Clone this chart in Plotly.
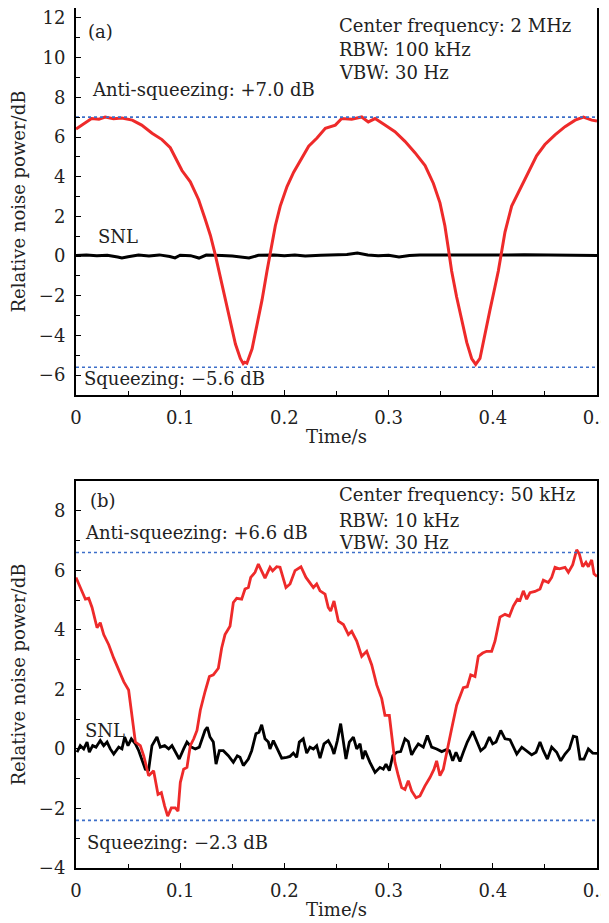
import plotly.graph_objects as go

# ---- panel (a): 2 MHz ----
time_sq_a = [0, 0.006, 0.015, 0.022, 0.028, 0.036, 0.044, 0.054, 0.063, 0.073, 0.0825, 0.0905,
             0.0953, 0.1017, 0.1097, 0.1177, 0.124, 0.129, 0.1337, 0.1385, 0.1433, 0.148, 0.153,
             0.1577, 0.1605, 0.162, 0.164, 0.169, 0.1737, 0.1785, 0.1833, 0.1865, 0.1913, 0.196,
             0.2025, 0.2089, 0.2169, 0.2233, 0.2313, 0.2393, 0.2489, 0.255, 0.2646, 0.2742, 0.2805,
             0.287, 0.2965, 0.3061, 0.3157, 0.3253, 0.335, 0.343, 0.3493, 0.354, 0.3573, 0.3605,
             0.3653, 0.370, 0.375, 0.3797, 0.3836, 0.3877, 0.3925, 0.3973, 0.402, 0.4053, 0.4085,
             0.4117, 0.4181, 0.426, 0.434, 0.442, 0.450, 0.4597, 0.4693, 0.479, 0.487, 0.495, 0.5]
noise_sq_a = [6.4, 6.63, 6.93, 6.9, 7.0, 6.92, 6.96, 6.85, 6.6, 6.19, 5.87, 5.46,
              4.97, 4.31, 3.74, 2.84, 1.86, 1.04, 0.06, -1.08, -2.2, -3.37, -4.43,
              -5.16, -5.42, -5.35, -5.4, -4.67, -3.53, -2.22, -0.75, 0.23, 1.53, 2.52,
              3.5, 4.23, 4.97, 5.54, 5.95, 6.44, 6.6, 6.93, 6.9, 7.01, 6.76,
              6.93, 6.6, 6.27, 5.78, 5.21, 4.56, 3.66, 2.68, 1.53, 0.39, -0.75,
              -2.06, -3.2, -4.35, -5.16, -5.46, -5.16, -4.02, -2.71, -1.57, -0.75, 0.23,
              1.21, 2.52, 3.33, 4.15, 5.05, 5.62, 6.11, 6.52, 6.85, 7.0, 6.85, 6.8]

time_snl_a = [0, 0.01, 0.02, 0.03, 0.04, 0.044, 0.05, 0.06, 0.07, 0.08, 0.09, 0.095, 0.1, 0.11,
              0.118, 0.125, 0.14, 0.15, 0.166, 0.175, 0.19, 0.2, 0.21, 0.22, 0.235, 0.25, 0.26,
              0.27, 0.28, 0.29, 0.3, 0.31, 0.32, 0.33, 0.35, 0.37, 0.39, 0.41, 0.43, 0.45, 0.47, 0.49, 0.5]
noise_snl_a = [0.03, 0.05, 0.02, 0.04, -0.05, -0.1, -0.03, 0.05, 0.0, 0.06, -0.02, -0.09, 0.04, 0.02,
               -0.1, 0.05, 0.03, 0.0, -0.1, 0.04, 0.06, 0.02, 0.05, 0.0, 0.04, 0.06, 0.08,
               0.15, 0.06, 0.02, 0.04, -0.05, 0.03, 0.06, 0.05, 0.04, 0.06, 0.05, 0.07, 0.05, 0.06, 0.04, 0.03]

limits_a = [7.0, -5.6]

# ---- panel (b): 50 kHz ----
time_sq_b = [0.0, 0.0058, 0.009, 0.0122, 0.0154, 0.0202, 0.0233, 0.0266, 0.0314, 0.0362, 0.041,
             0.0458, 0.0505, 0.0537, 0.057, 0.0617, 0.065, 0.0697, 0.0745, 0.0787, 0.0819, 0.0851,
             0.088, 0.0915, 0.0953, 0.0979, 0.1001, 0.1033, 0.1065, 0.1097, 0.113, 0.1161, 0.1193,
             0.1238, 0.128, 0.1318, 0.1366, 0.1398, 0.143, 0.1478, 0.151, 0.1542, 0.159, 0.1622,
             0.1654, 0.1677, 0.1718, 0.175, 0.1814, 0.1862, 0.1887, 0.1926, 0.1958, 0.2015, 0.2054,
             0.2102, 0.2159, 0.2207, 0.2246, 0.2278, 0.231, 0.2342, 0.239, 0.2421, 0.2444, 0.2476,
             0.2518, 0.2566, 0.2614, 0.2646, 0.2694, 0.2742, 0.279, 0.2838, 0.2886, 0.2934, 0.2965,
             0.3007, 0.303, 0.3061, 0.3093, 0.3125, 0.3157, 0.3189, 0.3221, 0.3263, 0.3301, 0.3349,
             0.3397, 0.3436, 0.3461, 0.3493, 0.3525, 0.3557, 0.3605, 0.3653, 0.3717, 0.3755, 0.3788,
             0.3829, 0.3861, 0.3903, 0.3941, 0.3989, 0.4021, 0.4069, 0.4117, 0.4159, 0.4197, 0.4236,
             0.4261, 0.4293, 0.4325, 0.4357, 0.4405, 0.4453, 0.4485, 0.4533, 0.4565, 0.4597, 0.4639,
             0.4693, 0.4725, 0.4767, 0.4805, 0.483, 0.4863, 0.4894, 0.4917, 0.4949, 0.4971, 0.5]
noise_sq_b = [5.76, 5.31, 5.03, 5.06, 4.75, 4.07, 4.24, 3.84, 3.5, 3.05, 2.65,
              2.26, 1.98, 1.02, 0.23, 0.11, -0.23, -0.9, -0.73, -1.53, -1.47, -1.92,
              -2.26, -1.98, -1.98, -2.09, -1.13, -0.68, -0.62, 0.11, 0.34, 0.62, 1.3,
              1.92, 2.43, 2.49, 2.71, 3.39, 3.84, 4.12, 4.92, 5.06, 5.03, 5.37,
              5.42, 5.76, 5.93, 6.21, 5.74, 6.1, 5.98, 6.12, 6.1, 5.42, 5.54,
              5.99, 6.12, 5.76, 5.59, 5.42, 5.54, 5.31, 5.2, 4.75, 4.63, 4.97,
              4.29, 4.18, 3.84, 3.95, 3.62, 3.11, 3.28, 2.82, 2.15, 1.69, 1.13,
              1.13, 0.45, -0.45, -0.9, -1.3, -1.36, -1.07, -1.41, -1.64, -1.58, -1.24,
              -0.96, -0.68, -0.4, -0.9, -0.68, -0.11, 0.68, 1.47, 2.06, 2.09, 2.49,
              2.43, 3.11, 3.22, 3.28, 3.28, 3.62, 4.43, 4.52, 4.46, 4.8, 5.03,
              4.99, 5.31, 5.03, 5.25, 5.29, 5.37, 5.67, 5.59, 5.76, 6.1, 6.05,
              6.1, 5.93, 6.19, 6.69, 6.55, 6.12, 6.27, 6.12, 6.35, 5.88, 5.79]

time_snl_b = [0.001, 0.0041, 0.0074, 0.0106, 0.0128, 0.016, 0.0192, 0.0233, 0.0266, 0.0298, 0.0329,
              0.0362, 0.041, 0.0441, 0.0467, 0.0499, 0.0531, 0.057, 0.0602, 0.0633, 0.0665, 0.0697,
              0.0729, 0.0777, 0.0809, 0.0851, 0.0889, 0.0921, 0.0953, 0.0991, 0.1033, 0.1065, 0.1107,
              0.1145, 0.1183, 0.1238, 0.126, 0.1286, 0.1318, 0.1344, 0.1376, 0.1414, 0.1462, 0.151,
              0.1548, 0.1574, 0.1606, 0.1654, 0.1686, 0.1727, 0.1756, 0.1782, 0.1814, 0.1846, 0.1862,
              0.1894, 0.1932, 0.1974, 0.2022, 0.2054, 0.2086, 0.2118, 0.2143, 0.2181, 0.2214, 0.2246,
              0.2278, 0.231, 0.2342, 0.238, 0.2421, 0.2454, 0.2476, 0.2508, 0.254, 0.2566, 0.2591,
              0.2623, 0.2662, 0.2694, 0.2726, 0.2751, 0.2774, 0.2821, 0.287, 0.2917, 0.2949, 0.2975,
              0.3007, 0.304, 0.3078, 0.3116, 0.3157, 0.3189, 0.3221, 0.3253, 0.3285, 0.3333, 0.3372,
              0.3413, 0.3461, 0.351, 0.3557, 0.3583, 0.3615, 0.3647, 0.3685, 0.3717, 0.3755, 0.3807,
              0.3845, 0.3884, 0.3925, 0.3967, 0.3999, 0.4031, 0.4076, 0.4117, 0.4165, 0.423, 0.4278,
              0.4325, 0.4373, 0.4415, 0.4453, 0.4485, 0.4524, 0.4565, 0.4613, 0.4652, 0.4693, 0.4735,
              0.4773, 0.4805, 0.4837, 0.4875, 0.4917, 0.4959, 0.5]
noise_snl_b = [-0.11, 0.11, 0.0, 0.23, -0.11, 0.11, 0.06, 0.28, 0.11, 0.23, 0.0,
               -0.17, 0.06, 0.0, 0.4, 0.11, 0.34, 0.17, -0.06, -0.4, -0.68, -0.7,
               0.11, 0.4, 0.06, 0.11, 0.0, 0.11, -0.11, -0.34, 0.0, 0.23, 0.06,
               0.0, 0.06, 0.62, 0.73, 0.4, 0.23, -0.51, -0.06, -0.06, -0.23, -0.45,
               -0.23, -0.28, -0.56, -0.34, -0.06, 0.51, 0.56, 0.81, 0.34, 0.23, 0.0,
               0.28, 0.0, -0.31, -0.28, -0.25, -0.14, -0.28, 0.23, 0.34, -0.14, 0.06,
               0.0, 0.11, -0.31, 0.17, 0.28, 0.06, -0.17, 0.28, 0.85, 0.23, -0.34,
               0.23, 0.4, 0.0, 0.17, -0.34, -0.06, -0.45, -0.79, -0.62, -0.68, -0.51,
               -0.73, -0.23, -0.11, -0.09, 0.34, 0.25, -0.2, 0.0, 0.17, 0.06, 0.45,
               0.06, 0.0, -0.09, -0.02, -0.06, -0.4, -0.11, -0.42, -0.11, 0.23, 0.59,
               0.28, -0.06, 0.06, 0.4, 0.17, 0.23, 0.62, 0.34, 0.31, -0.17, 0.06,
               -0.06, -0.2, -0.11, 0.23, -0.06, -0.34, 0.06, -0.11, -0.4, -0.17, 0.0,
               0.43, 0.4, -0.34, -0.34, 0.0, -0.14, -0.15]

limits_b = [6.6, -2.4]
time_span = [0, 0.5]

RED = "#ee2a2a"
BLUE = "#3d6fc9"
FONT = "DejaVu Serif"
INK = "#222"
FS = 18

fig = go.Figure()

# panel (a)
fig.add_trace(go.Scatter(x=time_snl_a, y=noise_snl_a, mode="lines", line=dict(color="black", width=3),
                         xaxis="x", yaxis="y"))
fig.add_trace(go.Scatter(x=time_sq_a, y=noise_sq_a, mode="lines", line=dict(color=RED, width=3),
                         xaxis="x", yaxis="y"))
for lv in limits_a:
    fig.add_trace(go.Scatter(x=time_span, y=[lv, lv], mode="lines",
                             line=dict(color=BLUE, width=1.6, dash="dot"), xaxis="x", yaxis="y"))

# panel (b)
fig.add_trace(go.Scatter(x=time_snl_b, y=noise_snl_b, mode="lines", line=dict(color="black", width=2.8),
                         xaxis="x2", yaxis="y2"))
fig.add_trace(go.Scatter(x=time_sq_b, y=noise_sq_b, mode="lines", line=dict(color=RED, width=2.8),
                         xaxis="x2", yaxis="y2"))
for lv in limits_b:
    fig.add_trace(go.Scatter(x=time_span, y=[lv, lv], mode="lines",
                             line=dict(color=BLUE, width=1.6, dash="dot"), xaxis="x2", yaxis="y2"))

axis_common = dict(showline=True, linecolor="black", linewidth=2, mirror=True, showgrid=False,
                   zeroline=False, ticks="inside", ticklen=5, tickwidth=1.3, tickcolor="black",
                   automargin=False, ticklabeloverflow="allow",
                   tickfont=dict(family=FONT, size=FS, color=INK))
x_common = dict(axis_common, range=[0, 0.5], tickvals=[0, 0.1, 0.2, 0.3, 0.4, 0.5],
                ticktext=["0", "0.1", "0.2", "0.3", "0.4", "0.5"], ticklabelstandoff=5,
                minor=dict(dtick=0.05, ticks="inside", ticklen=4, tickcolor="black"),
                title=dict(text="Time/s", font=dict(family=FONT, size=FS, color=INK), standoff=4))
y_common = dict(axis_common, dtick=2, ticklabelstandoff=5,
                minor=dict(dtick=1, ticks="inside", ticklen=4, tickcolor="black"),
                title=dict(text="Relative noise power/dB", font=dict(family=FONT, size=FS, color=INK),
                           standoff=11))

# page has an 8px body margin, so the figure is sized to fill the rest of the window
fig.update_layout(
    width=601, height=915,
    margin=dict(l=68, r=12, t=0, b=55),
    paper_bgcolor="white", plot_bgcolor="white",
    showlegend=False,
    xaxis=dict(x_common, domain=[0, 1], anchor="y"),
    yaxis=dict(y_common, domain=[0.55, 1], anchor="x", range=[-7, 12.5]),
    xaxis2=dict(x_common, domain=[0, 1], anchor="y2"),
    yaxis2=dict(y_common, domain=[0, 0.45], anchor="x2", range=[-4, 9]),
)

txt = dict(family=FONT, size=FS, color=INK)
notes = [
    (0.020, 0.973, "(a)"),
    (0.500, 0.980, "Center frequency: 2 MHz"),
    (0.500, 0.952, "RBW: 100 kHz"),
    (0.500, 0.925, "VBW: 30 Hz"),
    (0.026, 0.905, "Anti-squeezing: +7.0 dB"),
    (0.039, 0.734, "SNL"),
    (0.012, 0.569, "Squeezing: \u22125.6 dB"),
    (0.023, 0.427, "(b)"),
    (0.500, 0.434, "Center frequency: 50 kHz"),
    (0.500, 0.404, "RBW: 10 kHz"),
    (0.500, 0.378, "VBW: 30 Hz"),
    (0.013, 0.390, "Anti-squeezing: +6.6 dB"),
    (0.013, 0.160, "SNL"),
    (0.018, 0.030, "Squeezing: \u22122.3 dB"),
]
for xv, yv, s in notes:
    fig.add_annotation(xref="paper", yref="paper", x=xv, y=yv, text=s, showarrow=False,
                       xanchor="left", yanchor="middle", font=txt)

fig.write_html("out.html")
